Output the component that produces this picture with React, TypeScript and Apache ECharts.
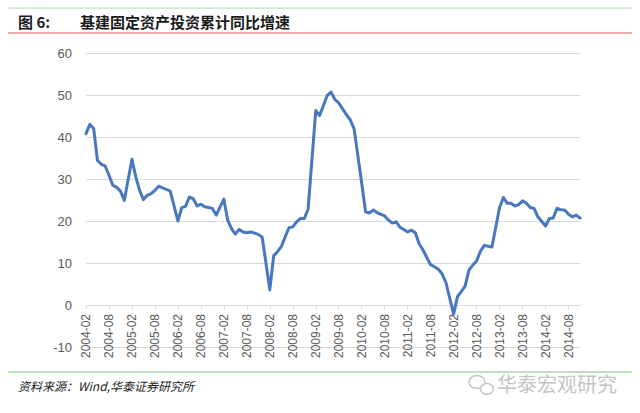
import React, { useEffect, useRef } from "react";
import * as echarts from "echarts";

// Monthly values, February to December of each year (January is reported together with February)
const years = [2004, 2005, 2006, 2007, 2008, 2009, 2010, 2011, 2012, 2013, 2014];
const v2004 = [40.8, 43.0, 42.0, 34.4, 33.5, 33.1, 30.9, 28.5, 28.0, 27.1, 24.9];
const v2005 = [34.7, 30.5, 27.3, 25.1, 26.1, 26.5, 27.3, 28.3, 27.9, 27.5, 27.1];
const v2006 = [20.0, 23.2, 23.5, 25.7, 25.3, 23.6, 24.0, 23.4, 23.2, 23.0, 21.4];
const v2007 = [25.2, 20.2, 18.2, 16.9, 18.0, 17.4, 17.2, 17.4, 17.1, 16.8, 16.2];
const v2008 = [3.6, 11.7, 12.7, 13.9, 16.2, 18.4, 18.6, 19.8, 20.6, 20.6, 22.8];
const v2009 = [46.3, 45.1, 47.5, 49.9, 50.7, 48.9, 48.1, 46.7, 45.3, 44.1, 42.0];
const v2010 = [29.0, 22.2, 21.9, 22.6, 22.0, 21.6, 21.2, 20.2, 19.5, 19.8, 18.5];
const v2011 = [17.4, 17.8, 17.2, 14.6, 13.1, 11.3, 9.6, 9.1, 8.5, 7.4, 5.3];
const v2012 = [-2.2, 2.0, 3.2, 4.5, 8.3, 9.5, 10.5, 12.8, 14.2, 14.0, 13.8];
const v2013 = [23.2, 25.6, 24.2, 24.2, 23.6, 23.9, 24.8, 24.2, 23.2, 23.0, 21.0];
const v2014 = [18.8, 20.6, 20.7, 23.0, 22.7, 22.6, 21.6, 21.0, 21.4, 20.7];
const yearValues = [v2004, v2005, v2006, v2007, v2008, v2009, v2010, v2011, v2012, v2013, v2014];

const yTicks = { min: -10, max: 60, interval: 10 };

const titleLabel = "图 6:";
const titleText = "基建固定资产投资累计同比增速";
const sourceText = "资料来源：Wind,华泰证券研究所";
const watermark = "华泰宏观研究";

function pad(n: number) {
  return n < 10 ? "0" + n : "" + n;
}

// category axis is monthly; January slots are empty so spacing follows a date axis
const categories: string[] = [];
const values: (number | null)[] = [];
years.forEach((y, yi) => {
  const arr = yearValues[yi];
  if (yi > 0) {
    categories.push(`${y}-01`);
    values.push(null);
  }
  arr.forEach((v, mi) => {
    categories.push(`${y}-${pad(mi + 2)}`);
    values.push(v);
  });
});

export default function App() {
  const ref = useRef<HTMLDivElement>(null);
  useEffect(() => {
    if (!ref.current) return;
    const chart = echarts.init(ref.current, null, { renderer: "svg" });
    const gray = "#595959";
    chart.setOption({
      animation: false,
      backgroundColor: "#ffffff",
      grid: {
        left: 86,
        right: 60,
        top: 53,
        bottom: 66,
        containLabel: false,
        outerBoundsMode: "none",
      },
      xAxis: {
        type: "category",
        data: categories,
        boundaryGap: false,
        position: "bottom",
        offset: -42,
        axisLine: { onZero: false, lineStyle: { color: "#d9d9d9", width: 1 } },
        axisTick: {
          show: true,
          length: 4,
          interval: (i: number) => i % 6 === 0,
          lineStyle: { color: "#d9d9d9" },
        },
        axisLabel: {
          rotate: 90,
          interval: (i: number) => i % 6 === 0,
          color: gray,
          fontSize: 12,
          fontFamily: "Liberation Sans",
          margin: 9,
        },
        splitLine: { show: false },
      },
      yAxis: {
        type: "value",
        min: yTicks.min,
        max: yTicks.max,
        interval: yTicks.interval,
        axisLine: { show: false },
        axisTick: { show: false },
        axisLabel: {
          color: gray,
          fontSize: 13,
          fontFamily: "Liberation Sans",
          margin: 14,
        },
        splitLine: { lineStyle: { color: "#d9d9d9", width: 1 } },
      },
      series: [
        {
          type: "line",
          data: values,
          connectNulls: true,
          showSymbol: false,
          symbol: "none",
          lineStyle: { color: "#4677bf", width: 3, join: "round", cap: "round" },
          itemStyle: { color: "#4677bf" },
        },
      ],
      graphic: [
        { type: "line", shape: { x1: 8, y1: 8, x2: 632, y2: 8 }, style: { stroke: "#a6d5a6", lineWidth: 1 } },
        {
          type: "text",
          x: 18,
          y: 21,
          style: {
            text: titleLabel,
            font: "bold 15px 'Noto Sans CJK SC'",
            fill: "#1a1a1a",
            verticalAlign: "middle",
          },
        },
        {
          type: "text",
          x: 80,
          y: 21,
          style: {
            text: titleText,
            font: "bold 15px 'Noto Sans CJK SC'",
            fill: "#1a1a1a",
            verticalAlign: "middle",
          },
        },
        { type: "line", shape: { x1: 8, y1: 33, x2: 632, y2: 33 }, style: { stroke: "#d65a55", lineWidth: 1 } },
        { type: "line", shape: { x1: 8, y1: 372, x2: 632, y2: 372 }, style: { stroke: "#7cc47c", lineWidth: 1 } },
        {
          type: "text",
          x: 18,
          y: 385,
          style: {
            text: sourceText,
            font: "italic 12px 'Noto Sans CJK SC'",
            fill: "#1a1a1a",
            verticalAlign: "middle",
          },
        },
        {
          type: "ellipse",
          shape: { cx: 477, cy: 382, rx: 8, ry: 6.5 },
          style: { fill: "none", stroke: "#c4c4c4", lineWidth: 1.5 },
        },
        {
          type: "ellipse",
          shape: { cx: 487, cy: 389, rx: 6.5, ry: 5.5 },
          style: { fill: "#ffffff", stroke: "#c4c4c4", lineWidth: 1.5 },
        },
        {
          type: "text",
          x: 497,
          y: 383,
          style: {
            text: watermark,
            font: "20px 'Noto Sans CJK SC'",
            fill: "#c4c4c4",
            stroke: "#ffffff",
            lineWidth: 1,
            verticalAlign: "middle",
          },
        },
      ],
    });
    return () => chart.dispose();
  }, []);
  return (
    <div
      ref={ref}
      style={{ position: "absolute", left: 0, top: 0, width: 640, height: 413 }}
    />
  );
}
